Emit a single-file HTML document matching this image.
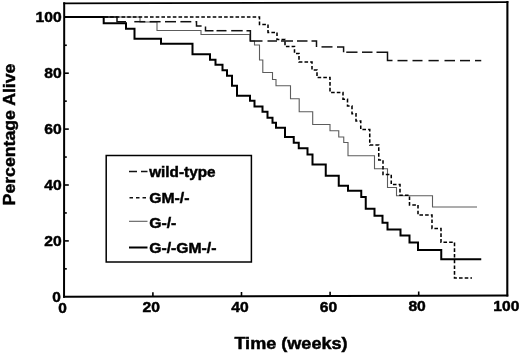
<!DOCTYPE html>
<html><head><meta charset="utf-8"><title>Survival</title>
<style>
html,body{margin:0;padding:0;background:#fff;}
svg{display:block;}
text{font-family:"Liberation Sans",sans-serif;font-weight:bold;fill:#000;stroke:#000;stroke-width:0.45px;}
</style></head><body>
<svg width="520" height="354" viewBox="0 0 520 354">
<rect width="520" height="354" fill="#fff"/>
<g fill="none" stroke-linejoin="miter">
<polyline points="64.5,17 140,17 140,22 157,22 157,30.5 201,30.5 201,34.5 250,34.5 250,41 254.5,41 254.5,45 259.5,45 259.5,60 262.8,60 262.8,72.5 272.5,72.5 272.5,79.5 276,79.5 276,85.75 290.5,85.75 290.5,98.75 299.2,98.75 299.2,111.75 312.7,111.75 312.7,124.5 330,124.5 330,130.75 338.75,130.75 338.75,137 343.75,137 343.75,142.5 348,142.5 348,155.75 374.5,155.75 374.5,168.75 387.5,168.75 387.5,187.5 396.5,187.5 396.5,195.75 432.5,195.75 432.5,207 477,207" stroke="#5c5c5c" stroke-width="1.1"/>
<polyline points="64.5,17 117,17 117,21.7 126,21.7" stroke="#111" stroke-width="1.5"/><polyline points="134.3,21.7 145.3,21.7" stroke="#111" stroke-width="1.5"/><polyline points="149.6,21.7 160.6,21.7" stroke="#111" stroke-width="1.5"/><polyline points="165,21.7 176,21.7" stroke="#111" stroke-width="1.5"/><polyline points="180.4,21.7 191.3,21.7" stroke="#111" stroke-width="1.5"/><polyline points="195.5,21.7 196.5,21.7 196.5,26 201.6,26" stroke="#111" stroke-width="1.5"/><polyline points="205.5,26.6 205.5,30.7 213.5,30.7" stroke="#111" stroke-width="1.5"/><polyline points="216.5,30.7 226.5,30.7" stroke="#111" stroke-width="1.5"/><polyline points="231.2,30.7 242.7,30.7" stroke="#111" stroke-width="1.5"/><polyline points="246.5,30.7 250.4,30.7 250.4,41 262.5,41" stroke="#111" stroke-width="1.5"/><polyline points="267.5,41 277,41" stroke="#111" stroke-width="1.5"/><polyline points="281,41 293,41" stroke="#111" stroke-width="1.5"/><polyline points="297,41 307.5,41" stroke="#111" stroke-width="1.5"/><polyline points="311.5,41 316.5,41 316.5,46.9" stroke="#111" stroke-width="1.5"/><polyline points="321.5,46.9 332.5,46.9" stroke="#111" stroke-width="1.5"/><polyline points="337,46.9 343.6,46.9 343.6,52.2" stroke="#111" stroke-width="1.5"/><polyline points="346.25,52.2 357.5,52.2" stroke="#111" stroke-width="1.5"/><polyline points="362,52.2 372.5,52.2" stroke="#111" stroke-width="1.5"/><polyline points="376.5,52.2 387.5,52.2 387.5,60.6 392.5,60.6" stroke="#111" stroke-width="1.5"/><polyline points="397.5,60.6 407.5,60.6" stroke="#111" stroke-width="1.5"/><polyline points="412.5,60.6 422.5,60.6" stroke="#111" stroke-width="1.5"/><polyline points="428.5,60.6 438.75,60.6" stroke="#111" stroke-width="1.5"/><polyline points="444.5,60.6 455,60.6" stroke="#111" stroke-width="1.5"/><polyline points="460,60.6 470,60.6" stroke="#111" stroke-width="1.5"/><polyline points="475,60.6 481.25,60.6" stroke="#111" stroke-width="1.5"/>
<polyline points="64.5,17 259.5,17 259.5,24.4 268,24.4 268,32.4 277,32.4 277,39.4 285,39.4 285,46.4 294.5,46.4 294.5,53.4 299,53.4 299,62 312,62 312,69.9 317,69.9 317,77.4 330,77.4 330,92.4 343,92.4 343,99.15 347.5,99.15 347.5,106 352,106 352,113.75 356,113.75 356,121 360.75,121 360.75,129.5 369.75,129.5 369.75,145 378.75,145 378.75,160 383,160 383,174.5 391.25,174.5 391.25,184.5 400,184.5 400,195.25 409.5,195.25 409.5,205 418,205 418,215 432,215 432,228.5 441,228.5 441,242.25 454.5,242.25 454.5,278 472,278" stroke="#000" stroke-width="1.55" stroke-dasharray="3.6 2.1"/>
<polyline points="64.5,17 103.7,17 103.7,23.3 126,23.3 126,28.8 134.5,28.8 134.5,38.8 161,38.8 161,43.8 192.5,43.8 192.5,54.3 210,54.3 210,59.8 215.5,59.8 215.5,64.8 222.5,64.8 222.5,70.3 227,70.3 227,75.8 232,75.8 232,85.8 237,85.8 237,95.8 250,95.8 250,100.8 254.5,100.8 254.5,106.55 262.5,106.55 262.5,111.8 267.5,111.8 267.5,117.8 272.5,117.8 272.5,122.8 276,122.8 276,127.8 285,127.8 285,137.05 293.75,137.05 293.75,142.8 298.75,142.8 298.75,148.3 307.5,148.3 307.5,154.55 312.5,154.55 312.5,164.55 325.75,164.55 325.75,175.8 338.75,175.8 338.75,185.8 348,185.8 348,190.8 361.25,190.8 361.25,197.05 365.75,197.05 365.75,208.8 374.5,208.8 374.5,215.8 382.5,215.8 382.5,222.8 387.5,222.8 387.5,229.4 400.5,229.4 400.5,235.5 409.5,235.5 409.5,242.5 418,242.5 418,250 441.25,250 441.25,259.25 481.25,259.25" stroke="#000" stroke-width="2"/>
</g>
<g stroke="#000" stroke-linecap="square"><line x1="64.2" x2="64.05" y1="3.35" y2="296.8" stroke-width="2"/><line x1="64.05" x2="507.3" y1="296.8" y2="295.55" stroke-width="2"/><line x1="507.4" x2="507.3" y1="2.1" y2="295.55" stroke-width="2.1"/><line x1="64.2" x2="507.4" y1="3.35" y2="2.1" stroke-width="1.8"/></g>
<g stroke="#000" stroke-width="1.6"><line x1="64.3" x2="66.8" y1="268.85" y2="268.85"/><line x1="64.3" x2="68.8" y1="240.90" y2="240.90"/><line x1="64.3" x2="66.8" y1="212.95" y2="212.95"/><line x1="64.3" x2="68.8" y1="185.00" y2="185.00"/><line x1="64.3" x2="66.8" y1="157.05" y2="157.05"/><line x1="64.3" x2="68.8" y1="129.10" y2="129.10"/><line x1="64.3" x2="66.8" y1="101.15" y2="101.15"/><line x1="64.3" x2="68.8" y1="73.20" y2="73.20"/><line x1="64.3" x2="66.8" y1="45.25" y2="45.25"/><line x1="152.90" x2="152.90" y1="296.55" y2="292.25"/><line x1="241.50" x2="241.50" y1="296.30" y2="292.00"/><line x1="330.10" x2="330.10" y1="296.05" y2="291.75"/><line x1="418.70" x2="418.70" y1="295.80" y2="291.50"/></g>
<g font-size="14"><text x="44.20" y="245.90" textLength="17.4" lengthAdjust="spacingAndGlyphs">20</text><text x="44.20" y="190.00" textLength="17.4" lengthAdjust="spacingAndGlyphs">40</text><text x="44.20" y="134.10" textLength="17.4" lengthAdjust="spacingAndGlyphs">60</text><text x="44.20" y="78.20" textLength="17.4" lengthAdjust="spacingAndGlyphs">80</text><text x="35.60" y="22.30" textLength="26" lengthAdjust="spacingAndGlyphs">100</text><text x="52.3" y="302" textLength="8.6" lengthAdjust="spacingAndGlyphs">0</text><text x="142.60" y="312.15" textLength="17.4" lengthAdjust="spacingAndGlyphs">20</text><text x="231.20" y="311.90" textLength="17.4" lengthAdjust="spacingAndGlyphs">40</text><text x="319.80" y="311.65" textLength="17.4" lengthAdjust="spacingAndGlyphs">60</text><text x="408.40" y="311.40" textLength="17.4" lengthAdjust="spacingAndGlyphs">80</text><text x="58.3" y="313" textLength="8.6" lengthAdjust="spacingAndGlyphs">0</text><text x="493.3" y="311.4" textLength="26" lengthAdjust="spacingAndGlyphs">100</text></g>
<rect x="106.2" y="155.5" width="145.2" height="106.5" fill="#fff" stroke="#000" stroke-width="1.5"/>
<g fill="none">
<line x1="129" x2="147.5" y1="171.5" y2="171.5" stroke="#111" stroke-width="1.5" stroke-dasharray="8 4 6.5 9"/>
<line x1="129.5" x2="146" y1="197.7" y2="197.7" stroke="#111" stroke-width="1.5" stroke-dasharray="3.5 3"/>
<line x1="129" x2="147.5" y1="221.3" y2="221.3" stroke="#5c5c5c" stroke-width="1.1"/>
<line x1="129" x2="147.5" y1="247.5" y2="247.5" stroke="#000" stroke-width="2"/>
</g>
<g font-size="14.3">
<text x="149.2" y="176.5" textLength="66.4" lengthAdjust="spacingAndGlyphs">wild-type</text>
<text x="149.2" y="202.6" textLength="40.2" lengthAdjust="spacingAndGlyphs">GM-/-</text>
<text x="149.2" y="228" textLength="27.2" lengthAdjust="spacingAndGlyphs">G-/-</text>
<text x="149.2" y="253.3" textLength="67.2" lengthAdjust="spacingAndGlyphs">G-/-GM-/-</text>
</g>
<text font-size="16" x="234.4" y="349.2" textLength="113.2" lengthAdjust="spacingAndGlyphs">Time (weeks)</text>
<text font-size="16" transform="translate(14.5,205.4) rotate(-90)" textLength="141.8" lengthAdjust="spacingAndGlyphs">Percentage Alive</text>
</svg>
</body></html>
